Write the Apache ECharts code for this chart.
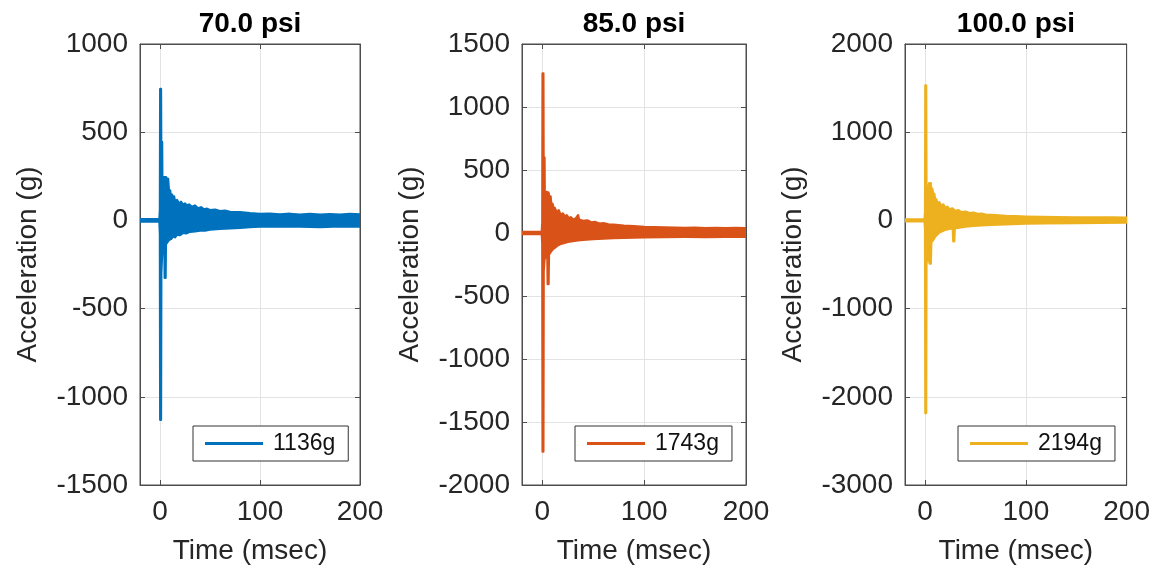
<!DOCTYPE html>
<html>
<head>
<meta charset="utf-8">
<script src="https://cdn.jsdelivr.net/npm/echarts@6/dist/echarts.min.js"></script>
<style>
  html, body { margin: 0; padding: 0; background: #fff; }
  #main { width: 1153px; height: 570px; }
</style>
</head>
<body>
<div id="main"></div>
<script>
// three shots, one per pressure
var titles = ['70.0 psi', '85.0 psi', '100.0 psi'];
var peakLabels = ['1136g', '1743g', '2194g'];
var lineColors = ['#0072BD', '#D95319', '#EDB120'];

var xTicks = [0, 100, 200];
var xMin = -20, xMax = 200;
var yMin = [-1500, -2000, -3000];
var yMax = [1000, 1500, 2000];
var yStep = [500, 500, 1000];

// upper / lower envelope of the ringing signal, [msec, g]
var upper70 = [[-20,6],[-0.5,6],[0,60],[0.3,745],[0.9,745],[1.2,300],[1.4,445],[2,445],[2.3,180],[3,200],[4,245],[6,245],[7,230],[8,235],
  [9,155],[10,170],[11,125],[12,145],[13,110],[14,135],[15,105],[17,115],[19,95],[21,105],[23,88],[25,95],[27,84],[29,90],
  [32,76],[35,84],[38,68],[41,74],[44,62],[47,66],[50,58],[55,60],[60,52],[65,55],[70,48],[80,46],[90,40],[100,36],[110,38],
  [120,34],[130,37],[140,32],[150,36],[160,32],[170,35],[180,32],[190,36],[200,34]];
var lower70 = [[-20,-6],[-0.5,-6],[0,-80],[0.3,-1130],[0.9,-1130],[1.2,-300],[2,-195],[3,-155],[4.5,-145],[4.8,-325],[5.5,-325],[5.8,-135],
  [7,-125],[9,-110],[11,-105],[13,-90],[15,-95],[17,-80],[20,-83],[23,-70],[26,-73],[30,-64],[35,-62],[40,-57],[45,-57],
  [50,-52],[60,-48],[70,-44],[80,-41],[90,-37],[100,-35],[120,-33],[140,-34],[160,-37],[180,-33],[200,-35]];

var upper85 = [[-20,7],[-0.5,7],[0,80],[0.3,1265],[0.9,1265],[1.2,300],[1.4,600],[2,600],[2.3,250],[3,290],[4,325],[6,320],[7,270],[8,290],
  [9,200],[10,230],[11,180],[12,200],[14,160],[16,180],[18,140],[20,155],[22,130],[24,140],[26,115],[28,125],[30,105],[33,115],
  [35,140],[36,105],[40,95],[44,100],[48,84],[52,87],[56,74],[60,77],[65,68],[70,65],[80,58],[90,54],[100,48],[110,45],
  [120,43],[130,42],[140,39],[150,41],[160,37],[170,39],[180,37],[190,39],[200,37]];
var lower85 = [[-20,-7],[-0.5,-7],[0,-80],[0.3,-1735],[0.9,-1735],[1.2,-300],[2,-210],[3,-190],[5,-180],[5.3,-405],[6,-405],[6.4,-170],
  [9,-140],[11,-122],[13,-112],[15,-98],[18,-86],[21,-79],[25,-70],[30,-63],[35,-58],[40,-54],[50,-48],[60,-43],[70,-40],
  [80,-38],[90,-35],[100,-33],[120,-31],[140,-30],[160,-31],[180,-29],[200,-30]];

var upper100 = [[-20,9],[-0.5,9],[0,100],[0.3,1530],[0.9,1530],[1.2,400],[2,300],[3,350],[4,420],[5.5,420],[6,320],[7,360],[8,290],
  [9,300],[10,220],[11,240],[12,190],[14,205],[16,165],[18,180],[20,140],[22,155],[24,125],[27,135],[30,105],[33,115],
  [36,92],[40,98],[44,82],[48,86],[52,72],[56,76],[60,64],[70,58],[80,50],[90,46],[100,42],[115,39],[130,36],[150,34],
  [170,32],[185,34],[200,31]];
var lower100 = [[-20,-9],[-0.5,-9],[0,-100],[0.3,-2185],[0.9,-2185],[1.2,-500],[2.5,-340],[3.5,-410],[4.5,-490],[5.5,-490],[6,-250],
  [8,-220],[10,-180],[12,-160],[14,-135],[17,-120],[20,-105],[24,-95],[27.5,-90],[28,-235],[28.8,-235],[29.3,-90],[34,-80],
  [40,-70],[48,-60],[56,-54],[65,-48],[80,-44],[100,-36],[120,-32],[150,-29],[175,-27],[200,-25]];

var uppers = [upper70, upper85, upper100];
var lowers = [lower70, lower85, lower100];

var gridLeft = [140, 522, 905];
var gridWidth = [220, 224, 222];
var FONT = '"Liberation Sans", Arial, Helvetica, sans-serif';
var axisGray = '#4d4d4d';

function bandRenderer(up, lo) {
    return function (params, api) {
        if (params.dataIndex !== 0) return null;
        var pts = [];
        for (var i = 0; i < up.length; i++) pts.push(api.coord(up[i]));
        for (var k = lo.length - 1; k >= 0; k--) pts.push(api.coord(lo[k]));
        return {
            type: 'polygon',
            shape: { points: pts },
            style: { fill: api.visual('color'), stroke: api.visual('color'), lineWidth: 2.5, lineJoin: 'round' }
        };
    };
}

function plainNum(v) { return String(v); }

var option = {
    animation: false,
    backgroundColor: '#fff',
    title: [], grid: [], xAxis: [], yAxis: [], legend: [], series: []
};

for (var i = 0; i < 3; i++) {
    var cx = gridLeft[i] + gridWidth[i] / 2;
    option.title.push({
        text: titles[i], left: cx, top: 10, textAlign: 'center', padding: 0,
        textStyle: { fontFamily: FONT, fontSize: 28, fontWeight: 'bold', color: '#000' }
    });
    option.grid.push({
        left: gridLeft[i], top: 44, width: gridWidth[i], height: 441,
        show: true, borderColor: axisGray, borderWidth: 1, backgroundColor: '#fff'
    });
    // bottom x axis with labels + grid lines
    option.xAxis.push({
        type: 'value', gridIndex: i, min: xMin, max: xMax, position: 'bottom',
        name: 'Time (msec)', nameLocation: 'middle', nameGap: 52,
        nameTextStyle: { fontFamily: FONT, fontSize: 28, color: '#262626' },
        axisLine: { show: true, onZero: false, lineStyle: { color: axisGray } },
        axisTick: { show: true, inside: true, length: 5, customValues: xTicks, lineStyle: { color: axisGray } },
        axisLabel: { customValues: xTicks, margin: 13, fontFamily: FONT, fontSize: 28, color: '#262626', formatter: plainNum },
        splitLine: { show: true, lineStyle: { color: '#e3e3e3', width: 1 } }
    });
    // top x axis, ticks only
    option.xAxis.push({
        type: 'value', gridIndex: i, min: xMin, max: xMax, position: 'top',
        axisLine: { show: true, onZero: false, lineStyle: { color: axisGray } },
        axisTick: { show: true, inside: true, length: 5, customValues: xTicks, lineStyle: { color: axisGray } },
        axisLabel: { show: false }, splitLine: { show: false }
    });
    option.yAxis.push({
        type: 'value', gridIndex: i, min: yMin[i], max: yMax[i], interval: yStep[i], position: 'left',
        name: 'Acceleration (g)', nameLocation: 'middle', nameGap: 98,
        nameTextStyle: { fontFamily: FONT, fontSize: 28, color: '#262626' },
        axisLine: { show: true, onZero: false, lineStyle: { color: axisGray } },
        axisTick: { show: true, inside: true, length: 5, lineStyle: { color: axisGray } },
        axisLabel: { margin: 12, fontFamily: FONT, fontSize: 28, color: '#262626', formatter: plainNum },
        splitLine: { show: true, lineStyle: { color: '#e3e3e3', width: 1 } }
    });
    option.yAxis.push({
        type: 'value', gridIndex: i, min: yMin[i], max: yMax[i], interval: yStep[i], position: 'right',
        axisLine: { show: true, onZero: false, lineStyle: { color: axisGray } },
        axisTick: { show: true, inside: true, length: 5, lineStyle: { color: axisGray } },
        axisLabel: { show: false }, splitLine: { show: false }
    });
    option.legend.push({
        left: gridLeft[i] + 53, top: 426, selectedMode: false,
        data: [{ name: peakLabels[i], icon: 'rect' }],
        itemWidth: 58, itemHeight: 3,
        padding: [6, 13, 6, 12],
        borderColor: '#333', borderWidth: 1, backgroundColor: '#fff',
        textStyle: { fontFamily: FONT, fontSize: 23, color: '#111', padding: [0, 0, 0, 5] }
    });
    option.series.push({
        type: 'custom', name: peakLabels[i],
        xAxisIndex: 2 * i, yAxisIndex: 2 * i,
        clip: true, silent: true,
        itemStyle: { color: lineColors[i] },
        encode: { x: 0, y: 1 },
        data: uppers[i],
        renderItem: bandRenderer(uppers[i], lowers[i]),
        z: 3
    });
}

var chart = echarts.init(document.getElementById('main'));
chart.setOption(option);
</script>
</body>
</html>
